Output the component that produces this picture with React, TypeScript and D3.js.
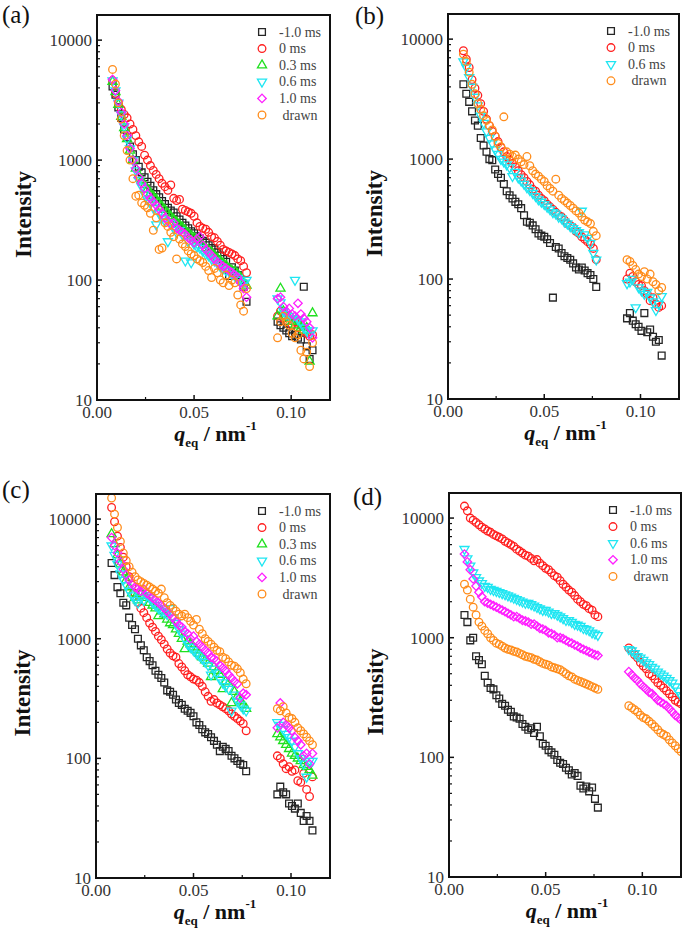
import React from 'react';
import * as d3 from 'd3';

// q grids (nm^-1)
const Q_LOW = [0.008, 0.0095, 0.011, 0.0125, 0.014, 0.0155, 0.017, 0.0185, 0.020, 0.0215, 0.023, 0.0245, 0.026, 0.0275, 0.029, 0.0305, 0.032, 0.0335, 0.035, 0.0365, 0.038, 0.0395, 0.041, 0.0425, 0.044, 0.0455, 0.047, 0.0485, 0.050, 0.0515, 0.053, 0.0545, 0.056, 0.0575, 0.059, 0.0605, 0.062, 0.0635, 0.065, 0.0665, 0.068, 0.0695, 0.071, 0.0725, 0.074, 0.0755, 0.077];
const Q_HIGH = [0.093, 0.0945, 0.096, 0.0975, 0.099, 0.1005, 0.102, 0.1035, 0.105, 0.1065, 0.108, 0.1095, 0.111, 0.1125, 0.114, 0.1155, 0.117, 0.1185, 0.120];

const X_TICKS = [0, 0.05, 0.1];
const X_TICK_LABELS = ['0.00', '0.05', '0.10'];
const Y_TICKS = [10, 100, 1000, 10000];
const Y_TICK_LABELS = ['10', '100', '1000', '10000'];
const PANEL_LABELS = ['(a)', '(b)', '(c)', '(d)'];
const SERIES_NAMES = ['-1.0 ms', '0 ms', '0.3 ms', '0.6 ms', '1.0 ms', ' drawn'];

// ---------- panel (a)
const A_BLACK_LOW = [4100, 3500, 2750, 2250, 1800, 1550, 1300, 1120, 1000, 880, 790, 720, 660, 610, 560, 520, 490, 455, 430, 400, 380, 365, 340, 320, 300, 285, 270, 255, 245, 232, 222, 212, 205, 195, 185, 180, 170, 160, 150, 142, 108, 128, 120, 110, 100, 88, 66];
const A_BLACK_HIGH = [45, 42, 40, 38, 36, 34, 35, 33, 32, 88, 28, 22, 26];
const A_RED_LOW = [4600, 3600, 3000, 2650, 2400, 2250, 2000, 1800, 1600, 1420, 1300, 1100, 1000, 900, 820, 760, 700, 640, 600, 560, 620, 480, 460, 470, 390, 380, 370, 360, 340, 300, 280, 270, 265, 250, 230, 225, 210, 195, 180, 175, 170, 165, 160, 150, 145, 130, 115];
const A_RED_HIGH = [50, 55, 48, 45, 50, 42, 45, 40, 42, 38, 36, 34, 35];
const A_GREEN_LOW = [4500, 3700, 2900, 2300, 1850, 1500, 1200, 1000, 850, 750, 680, 620, 570, 530, 500, 470, 440, 410, 385, 360, 340, 320, 305, 290, 275, 260, 245, 235, 225, 215, 205, 195, 185, 178, 170, 160, 152, 145, 138, 132, 125, 120, 118, 112, 105, 95, 90];
const A_GREEN_HIGH = [50, 85, 55, 50, 48, 45, 42, 45, 40, 38, 40, 21, 53];
const A_CYAN_LOW = [4600, 3800, 3000, 2400, 1900, 1500, 1250, 1000, 820, 680, 600, 520, 470, 440, 400, 290, 360, 330, 310, 210, 300, 270, 250, 260, 240, 145, 210, 140, 200, 190, 185, 175, 165, 160, 150, 145, 138, 130, 125, 120, 118, 112, 108, 104, 100, 95, 100];
const A_CYAN_HIGH = [70, 65, 55, 52, 50, 48, 100, 47, 45, 40, 38, 35, 38];
const A_MAGENTA_LOW = [4700, 3800, 3100, 2500, 2000, 1600, 1250, 1000, 850, 720, 640, 580, 520, 480, 450, 420, 390, 360, 330, 310, 290, 300, 270, 260, 250, 240, 225, 215, 205, 220, 230, 195, 180, 170, 160, 150, 140, 135, 130, 125, 120, 115, 110, 105, 95, 85, 72];
const A_MAGENTA_HIGH = [70, 72, 60, 55, 58, 52, 50, 64, 52, 48, 45, 40, 33];
const A_ORANGE_LOW = [5700, 4300, 3000, 2200, 1600, 1200, 1000, 700, 500, 510, 440, 420, 400, 360, 260, 330, 180, 185, 300, 280, 250, 230, 150, 220, 200, 190, 175, 165, 160, 150, 145, 140, 130, 120, 105, 125, 115, 100, 95, 110, 90, 100, 95, 75, 62, 55, 85];
const A_ORANGE_HIGH = [33, 45, 50, 45, 42, 36, 33, 35, 26, 22, 25, 19, 30];

// ---------- panel (b)
const B_BLACK_LOW = [4200, 3500, 3000, 2500, 2100, 1900, 1500, 1300, 1150, 1000, 980, 820, 750, 700, 620, 540, 500, 470, 440, 420, 390, 340, 300, 295, 280, 260, 240, 230, 225, 215, 200, 70, 185, 180, 165, 155, 150, 145, 135, 125, 120, 125, 118, 112, 108, 100, 86];
const B_BLACK_HIGH = [47, 52, 45, 42, 40, 37, 52, 36, 38, 33, 30, 31, 23];
const B_RED_LOW = [8000, 6800, 5800, 4600, 3900, 3400, 2900, 2500, 2150, 1900, 1700, 1550, 1400, 1250, 1150, 1050, 980, 920, 860, 800, 740, 700, 650, 610, 560, 540, 500, 470, 450, 420, 400, 380, 360, 340, 330, 310, 290, 280, 270, 250, 240, 225, 215, 205, 195, 180, 145];
const B_RED_HIGH = [100, 112, 105, 95, 90, 88, 80, 75, 66, 70, 62, 58, 60];
const B_CYAN_LOW = [6500, 5800, 4800, 4000, 3300, 2800, 2300, 2000, 1700, 1500, 1350, 1200, 1100, 1000, 950, 900, 850, 720, 780, 700, 660, 620, 580, 550, 520, 490, 460, 440, 420, 400, 380, 360, 350, 330, 320, 300, 290, 275, 265, 255, 245, 370, 235, 220, 200, 165, 145];
const B_CYAN_HIGH = [92, 95, 100, 58, 85, 80, 75, 78, 70, 65, 55, 62, 72];
const B_ORANGE_LOW = [7500, 6500, 5300, 4200, 3500, 2900, 2600, 2300, 2100, 1900, 1750, 1550, 1350, 1270, 2250, 1150, 1100, 1050, 1080, 1000, 950, 900, 1050, 880, 800, 750, 720, 680, 650, 600, 570, 540, 680, 500, 470, 450, 430, 410, 390, 370, 355, 330, 310, 300, 290, 250, 230];
const B_ORANGE_HIGH = [145, 140, 130, 120, 110, 105, 115, 100, 110, 95, 90, 80, 85];

// ---------- panel (c)
const C_BLACK_LOW = [4300, 3400, 2700, 2400, 2000, 1900, 1500, 1300, 1200, 1000, 880, 800, 700, 650, 600, 540, 500, 470, 430, 370, 360, 340, 310, 290, 280, 260, 250, 240, 225, 200, 190, 175, 165, 160, 150, 140, 130, 115, 125, 120, 115, 105, 100, 95, 90, 88, 78];
const C_BLACK_HIGH = [50, 58, 52, 50, 42, 40, 38, 42, 35, 30, 33, 30, 25];
const C_RED_LOW = [12500, 9500, 7200, 5800, 4800, 4000, 3300, 2800, 2400, 2000, 1800, 1650, 1500, 1350, 1250, 1150, 1050, 980, 900, 820, 760, 720, 700, 620, 580, 540, 500, 480, 460, 450, 430, 400, 360, 330, 300, 310, 290, 280, 270, 260, 250, 235, 225, 215, 205, 195, 170];
const C_RED_HIGH = [105, 100, 90, 82, 85, 78, 80, 65, 63, 75, 55, 48, 70];
const C_GREEN_LOW = [7500, 6200, 5000, 4200, 3600, 3100, 2700, 2400, 2200, 2100, 2400, 2300, 2200, 2000, 1900, 1800, 1550, 1700, 1600, 1450, 1350, 1300, 1200, 1100, 1000, 820, 950, 900, 850, 800, 750, 700, 660, 620, 480, 580, 540, 500, 380, 440, 420, 290, 360, 330, 300, 280, 260];
const C_GREEN_HIGH = [160, 150, 140, 130, 120, 110, 105, 100, 95, 88, 85, 80, 72];
const C_CYAN_LOW = [6000, 5000, 4200, 3500, 3100, 2800, 2500, 2300, 2100, 2000, 2200, 2100, 2300, 2200, 2000, 1900, 1800, 1700, 1650, 1600, 1800, 1500, 1350, 1200, 1100, 1000, 900, 850, 800, 750, 720, 680, 640, 600, 500, 560, 520, 460, 430, 400, 380, 250, 340, 300, 280, 260, 250];
const C_CYAN_HIGH = [200, 190, 175, 160, 150, 140, 125, 110, 100, 90, 70, 95, 95];
const C_MAGENTA_LOW = [7000, 6000, 5200, 4400, 3800, 3400, 3100, 2900, 2700, 2600, 2500, 2600, 2400, 2300, 2200, 2100, 2000, 1900, 1800, 1700, 1600, 1500, 1400, 1300, 1250, 1150, 1100, 1000, 1050, 950, 900, 850, 800, 760, 700, 680, 650, 600, 570, 540, 500, 470, 440, 420, 320, 350, 340];
const C_MAGENTA_HIGH = [180, 290, 200, 190, 180, 170, 150, 140, 130, 105, 110, 90, 110];
const C_ORANGE_LOW = [15000, 11000, 8500, 6500, 5200, 4500, 4000, 3600, 3300, 3100, 3000, 2900, 2800, 2700, 2600, 2500, 2400, 2600, 2200, 2000, 1900, 1800, 1700, 1600, 1550, 1600, 1500, 1400, 1300, 1450, 1200, 1100, 1000, 950, 900, 850, 800, 780, 700, 680, 640, 600, 590, 560, 520, 460, 420];
const C_ORANGE_HIGH = [260, 250, 270, 240, 220, 215, 200, 180, 170, 160, 150, 140, 130];

// ---------- panel (d)
const D_BLACK_LOW = [1550, 1350, 950, 1000, 700, 650, 600, 480, 420, 380, 370, 330, 310, 280, 270, 250, 240, 220, 215, 210, 190, 180, 170, 175, 160, 180, 150, 130, 125, 115, 110, 105, 95, 90, 88, 82, 78, 72, 74, 70, 58, 55, 57, 52, 56, 45, 38];
const D_BLACK_HIGH: number[] = [];
const D_RED_LOW = [12600, 11500, 10000, 9600, 9200, 8800, 8400, 8100, 7800, 7600, 7300, 7100, 6900, 6700, 6400, 6200, 6000, 5800, 5500, 5300, 5100, 4900, 4800, 4600, 4400, 4500, 4200, 4000, 3800, 3700, 3500, 3300, 3200, 3000, 2800, 2650, 2500, 2400, 2250, 2100, 2000, 1900, 1850, 1750, 1700, 1550, 1500];
const D_RED_HIGH = [820, 780, 720, 680, 620, 580, 550, 500, 480, 450, 420, 400, 380, 360, 340, 320, 300, 290, 280];
const D_CYAN_LOW = [5500, 4600, 4000, 3500, 3200, 3000, 2850, 2700, 2650, 2550, 2500, 2450, 2400, 2350, 2300, 2250, 2200, 2150, 2100, 2050, 2000, 1950, 1950, 1900, 1850, 1800, 1750, 1700, 1700, 1650, 1600, 1600, 1550, 1500, 1450, 1400, 1400, 1350, 1300, 1280, 1250, 1200, 1180, 1150, 1100, 1080, 1050];
const D_CYAN_HIGH = [800, 780, 740, 700, 680, 650, 620, 600, 570, 550, 520, 500, 480, 460, 440, 420, 390, 360, 330];
const D_MAGENTA_LOW = [5000, 4300, 3700, 3100, 2700, 2400, 2200, 2000, 1950, 1900, 1850, 1800, 1750, 1700, 1650, 1600, 1550, 1500, 1500, 1450, 1400, 1380, 1350, 1300, 1300, 1250, 1200, 1180, 1150, 1100, 1080, 1050, 1000, 1000, 980, 950, 920, 900, 870, 850, 820, 800, 780, 760, 740, 720, 710];
const D_MAGENTA_HIGH = [520, 490, 460, 440, 410, 390, 370, 350, 340, 320, 300, 290, 280, 270, 255, 240, 225, 215, 205];
const D_ORANGE_LOW = [2800, 2500, 2100, 1800, 1550, 1350, 1250, 1150, 1080, 1000, 950, 900, 880, 850, 820, 800, 790, 770, 760, 740, 720, 700, 690, 680, 660, 650, 630, 610, 600, 590, 570, 560, 550, 540, 520, 500, 480, 470, 450, 440, 430, 420, 410, 400, 390, 380, 370];
const D_ORANGE_HIGH = [270, 260, 250, 240, 225, 215, 210, 200, 190, 180, 170, 160, 155, 150, 140, 132, 125, 118, 112];

type Shape = 'square' | 'circle' | 'up' | 'down' | 'diamond';
const STYLES: { color: string; shape: Shape }[] = [
  { color: '#262626', shape: 'square' },
  { color: '#ff1f1f', shape: 'circle' },
  { color: '#1fe01f', shape: 'up' },
  { color: '#1fe6f2', shape: 'down' },
  { color: '#ff1fff', shape: 'diamond' },
  { color: '#ff8c1a', shape: 'circle' },
];

type Series = { idx: number; low: number[]; high: number[] };
type PanelDef = {
  label: string;
  labelPos: [number, number];
  box: { l: number; r: number; t: number; b: number };
  series: Series[];
};

const PANELS: PanelDef[] = [
  {
    label: PANEL_LABELS[0],
    labelPos: [2, 23],
    box: { l: 97, r: 330, t: 15, b: 400 },
    series: [
      { idx: 0, low: A_BLACK_LOW, high: A_BLACK_HIGH },
      { idx: 1, low: A_RED_LOW, high: A_RED_HIGH },
      { idx: 2, low: A_GREEN_LOW, high: A_GREEN_HIGH },
      { idx: 3, low: A_CYAN_LOW, high: A_CYAN_HIGH },
      { idx: 4, low: A_MAGENTA_LOW, high: A_MAGENTA_HIGH },
      { idx: 5, low: A_ORANGE_LOW, high: A_ORANGE_HIGH },
    ],
  },
  {
    label: PANEL_LABELS[1],
    labelPos: [355, 24],
    box: { l: 448, r: 679, t: 14, b: 399 },
    series: [
      { idx: 0, low: B_BLACK_LOW, high: B_BLACK_HIGH },
      { idx: 1, low: B_RED_LOW, high: B_RED_HIGH },
      { idx: 3, low: B_CYAN_LOW, high: B_CYAN_HIGH },
      { idx: 5, low: B_ORANGE_LOW, high: B_ORANGE_HIGH },
    ],
  },
  {
    label: PANEL_LABELS[2],
    labelPos: [2, 498],
    box: { l: 96, r: 330, t: 494, b: 878 },
    series: [
      { idx: 0, low: C_BLACK_LOW, high: C_BLACK_HIGH },
      { idx: 1, low: C_RED_LOW, high: C_RED_HIGH },
      { idx: 2, low: C_GREEN_LOW, high: C_GREEN_HIGH },
      { idx: 3, low: C_CYAN_LOW, high: C_CYAN_HIGH },
      { idx: 4, low: C_MAGENTA_LOW, high: C_MAGENTA_HIGH },
      { idx: 5, low: C_ORANGE_LOW, high: C_ORANGE_HIGH },
    ],
  },
  {
    label: PANEL_LABELS[3],
    labelPos: [353, 505],
    box: { l: 449, r: 681, t: 493, b: 877 },
    series: [
      { idx: 0, low: D_BLACK_LOW, high: D_BLACK_HIGH },
      { idx: 1, low: D_RED_LOW, high: D_RED_HIGH },
      { idx: 3, low: D_CYAN_LOW, high: D_CYAN_HIGH },
      { idx: 4, low: D_MAGENTA_LOW, high: D_MAGENTA_HIGH },
      { idx: 5, low: D_ORANGE_LOW, high: D_ORANGE_HIGH },
    ],
  },
];

const SERIF = "'Liberation Serif', 'Times New Roman', 'DejaVu Serif', serif";

const symSquare = d3.symbol().type(d3.symbolSquare).size(46)() as string;
const symCircle = d3.symbol().type(d3.symbolCircle).size(46)() as string;
const symTri = d3.symbol().type(d3.symbolTriangle).size(36)() as string;
const symDiamond = d3.symbol().type(d3.symbolSquare).size(36)() as string;

function Marker({ shape, x, y, color }: { shape: Shape; x: number; y: number; color: string }) {
  let d = symCircle;
  let rot = 0;
  if (shape === 'square') d = symSquare;
  else if (shape === 'up') d = symTri;
  else if (shape === 'down') { d = symTri; rot = 180; }
  else if (shape === 'diamond') { d = symDiamond; rot = 45; }
  return (
    <path
      d={d}
      transform={`translate(${x},${y})${rot ? ` rotate(${rot})` : ''}`}
      fill="none"
      stroke={color}
      strokeWidth={1.3}
    />
  );
}

function Panel({ p, pi }: { p: PanelDef; pi: number }) {
  const { l, r, t, b } = p.box;
  const x = d3.scaleLinear().domain([0, 0.12]).range([l, r]);
  const y = d3.scaleLog().domain([10, 16200]).range([b, t]);
  const minorY: number[] = [];
  [10, 100, 1000, 10000].forEach((dec) => {
    for (let k = 2; k <= 9; k++) {
      const v = dec * k;
      if (v <= 16200) minorY.push(v);
    }
  });
  const minorX = [0.025, 0.075];
  const clipId = `clip-${pi}`;
  const legendItems = p.series.map((s) => s.idx);
  return (
    <g>
      <defs>
        <clipPath id={clipId}>
          <rect x={l} y={t} width={r - l} height={b - t} />
        </clipPath>
      </defs>
      {/* panel label */}
      <text x={p.labelPos[0]} y={p.labelPos[1]} fontFamily={SERIF} fontSize={25} fill="#111">
        {p.label}
      </text>
      {/* data */}
      <g clipPath={`url(#${clipId})`}>
        {p.series.map((s) => {
          const st = STYLES[s.idx];
          return (
            <g key={s.idx}>
              {s.low.map((v, i) => (
                <Marker key={`l${i}`} shape={st.shape} x={x(Q_LOW[i])} y={y(v)} color={st.color} />
              ))}
              {s.high.map((v, i) => (
                <Marker key={`h${i}`} shape={st.shape} x={x(Q_HIGH[i])} y={y(v)} color={st.color} />
              ))}
            </g>
          );
        })}
      </g>
      {/* frame */}
      <rect x={l} y={t} width={r - l} height={b - t} fill="none" stroke="#111" strokeWidth={2} />
      {/* y ticks */}
      {Y_TICKS.map((v, i) => (
        <g key={`yt${i}`}>
          <line x1={l} x2={l + 5} y1={y(v)} y2={y(v)} stroke="#111" strokeWidth={1.5} />
          <text x={l - 5} y={y(v)} dy="0.35em" textAnchor="end" fontFamily={SERIF} fontSize={17} fill="#333">
            {Y_TICK_LABELS[i]}
          </text>
        </g>
      ))}
      {minorY.map((v, i) => (
        <line key={`ym${i}`} x1={l} x2={l + 3} y1={y(v)} y2={y(v)} stroke="#111" strokeWidth={1.2} />
      ))}
      {/* x ticks */}
      {X_TICKS.map((v, i) => (
        <g key={`xt${i}`}>
          <line x1={x(v)} x2={x(v)} y1={b} y2={b - 5} stroke="#111" strokeWidth={1.5} />
          <text x={x(v)} y={b + 18} textAnchor="middle" fontFamily={SERIF} fontSize={17} fill="#333">
            {X_TICK_LABELS[i]}
          </text>
        </g>
      ))}
      {minorX.map((v, i) => (
        <line key={`xm${i}`} x1={x(v)} x2={x(v)} y1={b} y2={b - 3} stroke="#111" strokeWidth={1.2} />
      ))}
      {/* axis titles */}
      <text
        transform={`translate(${l - 66},${(t + b) / 2 + 7}) rotate(-90)`}
        textAnchor="middle"
        fontFamily={SERIF}
        fontWeight="bold"
        fontSize={23}
        fill="#111"
      >
        Intensity
      </text>
      <text x={(l + r) / 2 + 2} y={b + 41} textAnchor="middle" fontFamily={SERIF} fontWeight="bold" fontSize={22} fill="#111">
        <tspan fontStyle="italic">q</tspan>
        <tspan fontSize={13} dy={6}>eq</tspan>
        <tspan dy={-6}>{' / nm'}</tspan>
        <tspan fontSize={13} dy={-11}>-1</tspan>
      </text>
      {/* legend */}
      {legendItems.map((idx, i) => {
        const st = STYLES[idx];
        const ly = t + 17 + i * 16.6;
        return (
          <g key={`lg${i}`}>
            <Marker shape={st.shape} x={r - 68} y={ly} color={st.color} />
            <text x={r - 51} y={ly} dy="0.33em" fontFamily={SERIF} fontSize={14} fill="#444" style={{ whiteSpace: 'pre' }}>
              {SERIES_NAMES[idx]}
            </text>
          </g>
        );
      })}
    </g>
  );
}

export default function App() {
  return (
    <svg
      width={685}
      height={933}
      viewBox="0 0 685 933"
      style={{ position: 'absolute', left: 0, top: 0, background: '#fff' }}
    >
      <rect x={0} y={0} width={685} height={933} fill="#fff" />
      {PANELS.map((p, i) => (
        <Panel key={i} p={p} pi={i} />
      ))}
    </svg>
  );
}
